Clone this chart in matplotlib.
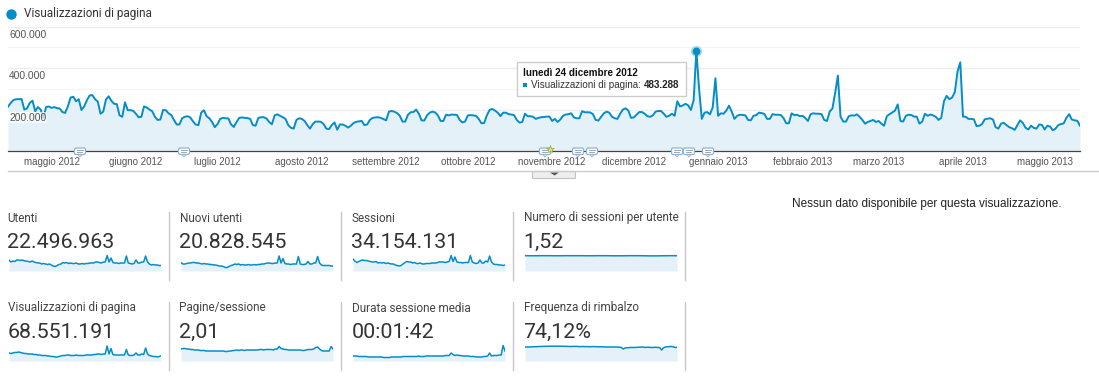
# Analytics overview: page views over time plus eight small metric tiles
import numpy as np
import pandas as pd
import matplotlib
matplotlib.use('Agg')
import matplotlib.pyplot as plt
from matplotlib.patches import FancyBboxPatch, Rectangle, Polygon

W, H = 1099, 385
BLUE = '#058dc7'
FILL = '#e4f1f8'

# daily page views, thousands, one row per week from 15 Apr 2012
views = [
    214,232,246,250,250,251,200, 206,232,243,192,212,200,160,
    212,215,208,212,207,205,188, 184,215,258,262,240,250,198,
    215,245,268,270,250,238,180, 190,248,264,242,228,226,172,
    165,235,197,197,194,180,163, 165,215,210,200,192,165,150,
    152,198,197,182,174,150,128, 128,158,165,168,162,143,128,
    125,185,197,168,158,140,115, 130,155,160,158,157,128,116,
    140,160,162,160,159,155,125, 122,160,163,163,157,140,129,
    172,177,170,163,155,125,112, 108,150,158,155,145,125,108,
    130,142,142,141,130,108,106, 125,138,103,128,128,122,113,
    122,135,141,143,145,125,128, 150,160,162,163,160,154,148,
    190,193,190,183,170,142,142, 175,187,188,200,180,148,147,
    172,185,190,186,172,145,145, 175,172,176,175,174,150,138,
    142,172,173,172,170,155,134, 135,172,198,203,195,185,168,
    185,185,178,176,173,150,137, 140,180,168,168,165,155,160,
    163,164,166,166,145,155,140, 152,170,176,178,182,162,158,
    158,192,187,187,186,178,150, 147,165,182,190,185,165,158,
    155,180,200,206,195,160,162, 175,188,188,180,168,165,172,
    190,193,193,180,165,170,180, 170,240,215,220,228,220,198,
    246,483.288,300,155,185,188,177, 210,351,170,182,180,195,219,
    190,155,170,175,174,172,150, 148,170,173,185,183,179,155,
    155,178,175,175,174,160,134, 134,182,173,175,168,170,160,
    145,178,182,180,180,178,150, 145,190,205,280,364,165,142,
    142,168,172,171,177,165,150, 132,140,145,150,140,145,132,
    122,168,178,186,195,225,145, 142,170,175,174,166,166,132,
    142,180,170,176,172,165,150, 160,240,266,250,258,285,385,
    428,166,165,155,155,153,120, 122,130,153,156,158,152,115,
    108,132,136,125,115,110,102, 125,148,135,112,104,122,112,
    108,128,126,104,122,118,100, 108,125,130,133,160,178,152,
    148,146,122,
]
month_starts = ['2012-05-01','2012-06-01','2012-07-01','2012-08-01','2012-09-01','2012-10-01','2012-11-01',
                '2012-12-01','2013-01-01','2013-02-01','2013-03-01','2013-04-01','2013-05-01']
month_labels = ['maggio 2012','giugno 2012','luglio 2012','agosto 2012','settembre 2012','ottobre 2012',
                'novembre 2012','dicembre 2012','gennaio 2013','febbraio 2013','marzo 2013','aprile 2013','maggio 2013']
y_ticks = [200, 400, 600]
y_labels = ['200.000', '400.000', '600.000']

# tile sparklines, read as heights in a 21 unit box
utenti = [11,9,10,9.5,11,11,10.5,11,10,10, 9.5,9,10,9,8.5,8,8,7,7.5,7,
          6.5,7,6,5,4.5,5.5,6.5,7,8.5,8, 8.5,7.5,8,7.5,7.5,8,7,7,7.5,7,
          7.5,7.5,8,8,8,9,9,8.5,8,9, 9,15.5,9,13,8.5,8,8,7.5,8,8,
          8,15,8,7.5,7,7.5,11,8,8,9, 9,15,9,7,6,6.5,6,6,5.5,5.5]
nuovi = [8.5,7,7,7.5,8,8,8.5,8.5,8,8, 7.5,7,7.5,7,7,6.5,6.5,6,6,5.5,
         5,5,4.5,3.5,3.5,4.5,5.5,6,7,6.5, 7,6,6.5,6,6,6.5,6,6,6.5,6,
         6.5,6.5,7,7,7.5,8,8,7.5,7.5,8, 8,15,8,12.5,7.5,7,7,6.5,7,7,
         7,14.5,7,6.5,6.5,7,9.5,7,7,8, 8,14.5,8,6,5.5,5.5,5.5,5.5,5,5]
sessioni = [12,10,8.5,9.5,10.5,11,10.5,10.5,10,9.5, 9,9,9.5,8,8.5,8,8.5,7.5,8,7.5,
            7,7,6,5.5,5,5.5,7,8.5,9.5,9, 9,8,8.5,7.5,7.5,8,7,7,7.5,7.5,
            7.5,8,8,8,8.5,9,9,9,8.5,9, 9.5,15.5,9.5,14,9,8.5,8.5,8,8.5,8.5,
            8.5,15.5,9,8,7.5,8,11,8,8,10, 9,15,9,7,6.5,6.5,6,6,5.5,6]
sess_utente = [15.3,15.2,15.3,15.3,15.2,15.3,15.3,15.3,15.2,15.3,
               15.3,15.2,15.2,15.3,15.3,15.2,15.1,15.2,15.3,15.3]
visual = [8,7.5,8,8.5,8.5,9,8.5,8,7.5,7.5, 7,7,7,6.5,6.5,6,6,5.5,5.5,5.5,
          5,5,4.5,4.5,4,4,4.5,5,5.5,5.5, 6,6,5.5,5.5,5.5,6,5.5,5.5,5.5,5.5,
          6,6,6,6,6.5,6.5,7,7,6.5,7, 7,15,7,12.5,6.5,6,6,6,6,6,
          6,11.5,6,5.5,5.5,6,8,6,6,7, 6.5,13,7,5.5,5,4.5,4.5,4,4.5,5]
pagine = [12,12.5,12.5,12,12,11.5,11.5,11,11,11, 10.5,10.5,10.5,10,10,10,10,10,10,10,
          10,10,10,9.5,9.5,10,10,10.5,10.5,11, 10.5,11,11,10.5,11,11,11,11,11,11,
          11,11.5,11.5,11,11.5,11.5,11.5,11.5,11,12, 12,14.5,12.5,12,11.5,11.5,11,11,11,11,
          11,11,11,10.5,10.5,11,11.5,11.5,11.5,12, 13.5,14,12,10.5,10,10,10,10,14.5,12]
durata = [5,5,5,4.5,4.5,4.5,4.5,4.5,4,4, 4,4,4,4,4,4,3.5,3.5,3.5,3.5,
          4,4,4,4,4,4,4.5,4.5,4.5,4.5, 4.5,4.5,4.5,4.5,5,4.5,4.5,4.5,5,5,
          5,5,5,5,5,5,5,5,5.5,5.5, 5.5,8,6.5,5.5,6,5.5,5.5,5,5,5,
          5,4.5,4.5,4.5,4,4,4,4,4.5,4.5, 5,8,5,5.5,5.5,5.5,6,6,15.5,10]
rimbalzo = [14,14,14,14.2,14.2,14.3,14.3,14.5,14.5,14.6, 14.6,14.7,14.7,14.8,14.8,14.8,14.8,14.8,14.8,14.8,
            14.7,14.7,14.6,14.5,14.5,14.6,14.6,14.6,14.4,14.4, 14.5,14.4,14.4,14.3,14.3,14.4,14.4,14.3,14.2,14.2,
            14.2,14.1,14,14,14,14,14,14,14,13.8, 13.6,12,13,13.2,13.4,13.5,13.5,13.6,13.6,13.8,
            13.8,14,13.6,13.7,13.8,13.6,13.5,13.6,13.7,13.5, 13.5,11,13.2,14,14.2,14.4,14.5,14.3,13.5,13.7]

tile_names = ['Utenti','Nuovi utenti','Sessioni','Numero di sessioni per utente',
              'Visualizzazioni di pagina','Pagine/sessione','Durata sessione media','Frequenza di rimbalzo']
tile_totals = ['22.496.963','20.828.545','34.154.131','1,52','68.551.191','2,01','00:01:42','74,12%']
tile_series = [utenti, nuovi, sessioni, sess_utente, visual, pagine, durata, rimbalzo]

# annotation bubbles along the time axis, pixel columns
bubble_x = [80, 184, 545, 578, 592, 677, 689, 708]


def px_axes(x0, y0, x1, y1):
    # axes placed by pixel box, y counted from the top
    return fig.add_axes([x0/W, 1-y1/H, (x1-x0)/W, (y1-y0)/H])


fig = plt.figure(figsize=(W/100, H/100), dpi=100, facecolor='white')

# main chart
ax = px_axes(8, 26.7, 1080, 151)
dates = pd.date_range('2012-04-15', periods=len(views))
views = np.array(views)
ax.fill_between(dates, views, 0, color=FILL, lw=0, zorder=2)
ax.plot(dates, views, color=BLUE, lw=1.4, solid_joinstyle='round', zorder=4)
peak = views.argmax()
ax.plot(dates[peak], views[peak], 'o', color=BLUE, ms=8, alpha=0.35, mew=0, zorder=5, clip_on=False)
ax.plot(dates[peak], views[peak], 'o', color=BLUE, ms=5.5, mew=0, zorder=6, clip_on=False)
ax.set_xlim(dates[0], dates[-1])
ax.set_ylim(0, 600)
ax.set_yticks([200, 400, 600])
ax.set_yticks([100, 300, 500], minor=True)
ax.set_yticklabels([])
ax.grid(axis='y', which='major', color='#eeeeee', lw=1, zorder=3)
ax.grid(axis='y', which='minor', color='#f5f5f5', lw=1, zorder=3)
ax.set_xticks(pd.to_datetime(month_starts))
ax.set_xticklabels(month_labels, fontsize=7, color='#555555', family='Liberation Sans')
ax.tick_params(axis='both', which='both', length=0)
ax.tick_params(axis='x', pad=4.5)
for s in ['top', 'left', 'right']:
    ax.spines[s].set_visible(False)
ax.spines['bottom'].set_color('#444444')
ax.spines['bottom'].set_linewidth(0.9)
ax.patch.set_alpha(0)
for v, lab in zip(y_ticks, y_labels):
    ax.annotate(lab, (0, v), xycoords=('axes fraction', 'data'), xytext=(1, -8), textcoords='offset pixels',
                fontsize=7.4, color='#555555', family='Liberation Sans', va='center', zorder=7,
                bbox=dict(fc='white', ec='none', alpha=0.65, pad=0.4))

# overlay in pixel coords for chrome and labels
ov = fig.add_axes([0, 0, 1, 1], facecolor='none')
ov.set_xlim(0, W)
ov.set_ylim(H, 0)
ov.axis('off')

ov.plot([11], [14], 'o', color=BLUE, ms=7.5, mew=0)
ov.text(24, 14, 'Visualizzazioni di pagina', fontsize=8.45, family='Roboto', color='#333333', va='center')

ov.plot([8, 1099], [170.5, 170.5], color='#cccccc', lw=1)
ov.add_patch(Rectangle((532, 171), 43, 6.5, fc='#eeeeee', ec='#c4c4c4', lw=0.8))
ov.add_patch(Polygon([[550, 172.5], [559, 172.5], [554.5, 175.5]], fc='#555555', ec='none'))

for bx in bubble_x:
    ov.add_patch(FancyBboxPatch((bx-5.5, 148), 11, 6.5, boxstyle='round,pad=0,rounding_size=1.5',
                                fc='white', ec='#8fb4d4', lw=0.9, zorder=6))
    ov.add_patch(Polygon([[bx-2, 154.5], [bx+2, 154.5], [bx, 157]], fc='white', ec='#8fb4d4', lw=0.7, zorder=6))
    ov.plot([bx-3, bx+3], [150.3, 150.3], color='#8a9aa8', lw=0.6, zorder=7)
    ov.plot([bx-3, bx+2], [152.3, 152.3], color='#8a9aa8', lw=0.6, zorder=7)
ov.plot([549.5], [149], marker='*', color='#e8e23a', mec='#7a9a3a', mew=0.4, ms=6, zorder=8)

# tooltip
ov.add_patch(Rectangle((517, 62), 169, 34, fc='white', ec='#cccccc', lw=1, zorder=9))
ov.text(523, 72.5, 'lunedì 24 dicembre 2012', fontsize=7.15, family='Liberation Sans', weight='bold',
        color='#111111', va='center', zorder=10)
ov.add_patch(Rectangle((523, 82.5), 4, 4, fc=BLUE, ec='none', zorder=10))
ov.text(531, 85, 'Visualizzazioni di pagina:', fontsize=7.15, family='Liberation Sans', color='#333333',
        va='center', zorder=10)
ov.text(644, 85, '483.288', fontsize=7.15, family='Liberation Sans', weight='bold', color='#222222',
        va='center', zorder=10)

ov.text(792, 204.5, 'Nessun dato disponibile per questa visualizzazione.', fontsize=8.5,
        family='Liberation Sans', color='#222222', va='center')

# metric tiles
col_x = [9, 181, 353, 525]
row_y = [218, 308]
for i, (name, total, vals) in enumerate(zip(tile_names, tile_totals, tile_series)):
    x0 = col_x[i % 4]
    y0 = row_y[i // 4]
    ov.text(x0-1.5, y0, name, fontsize=8.5, family='Roboto', color='#444444', va='center')
    ov.text(x0-1.5, y0+24.5, total, fontsize=15.4, family='Roboto', color='#333333', va='center')
    sp = px_axes(x0, y0+32, x0+152, y0+53)
    sp.fill_between(np.arange(len(vals)), vals, 0, color=FILL, lw=0)
    sp.plot(np.arange(len(vals)), vals, color=BLUE, lw=1.1)
    sp.set_xlim(0, len(vals)-1)
    sp.set_ylim(0, 21)
    sp.axis('off')

for sx in [169, 341, 513, 685]:
    ov.plot([sx, sx], [212, 280], color='#c8c8c8', lw=1)
    ov.plot([sx, sx], [302, 370], color='#c8c8c8', lw=1)

plt.savefig('out.png', dpi=100)
